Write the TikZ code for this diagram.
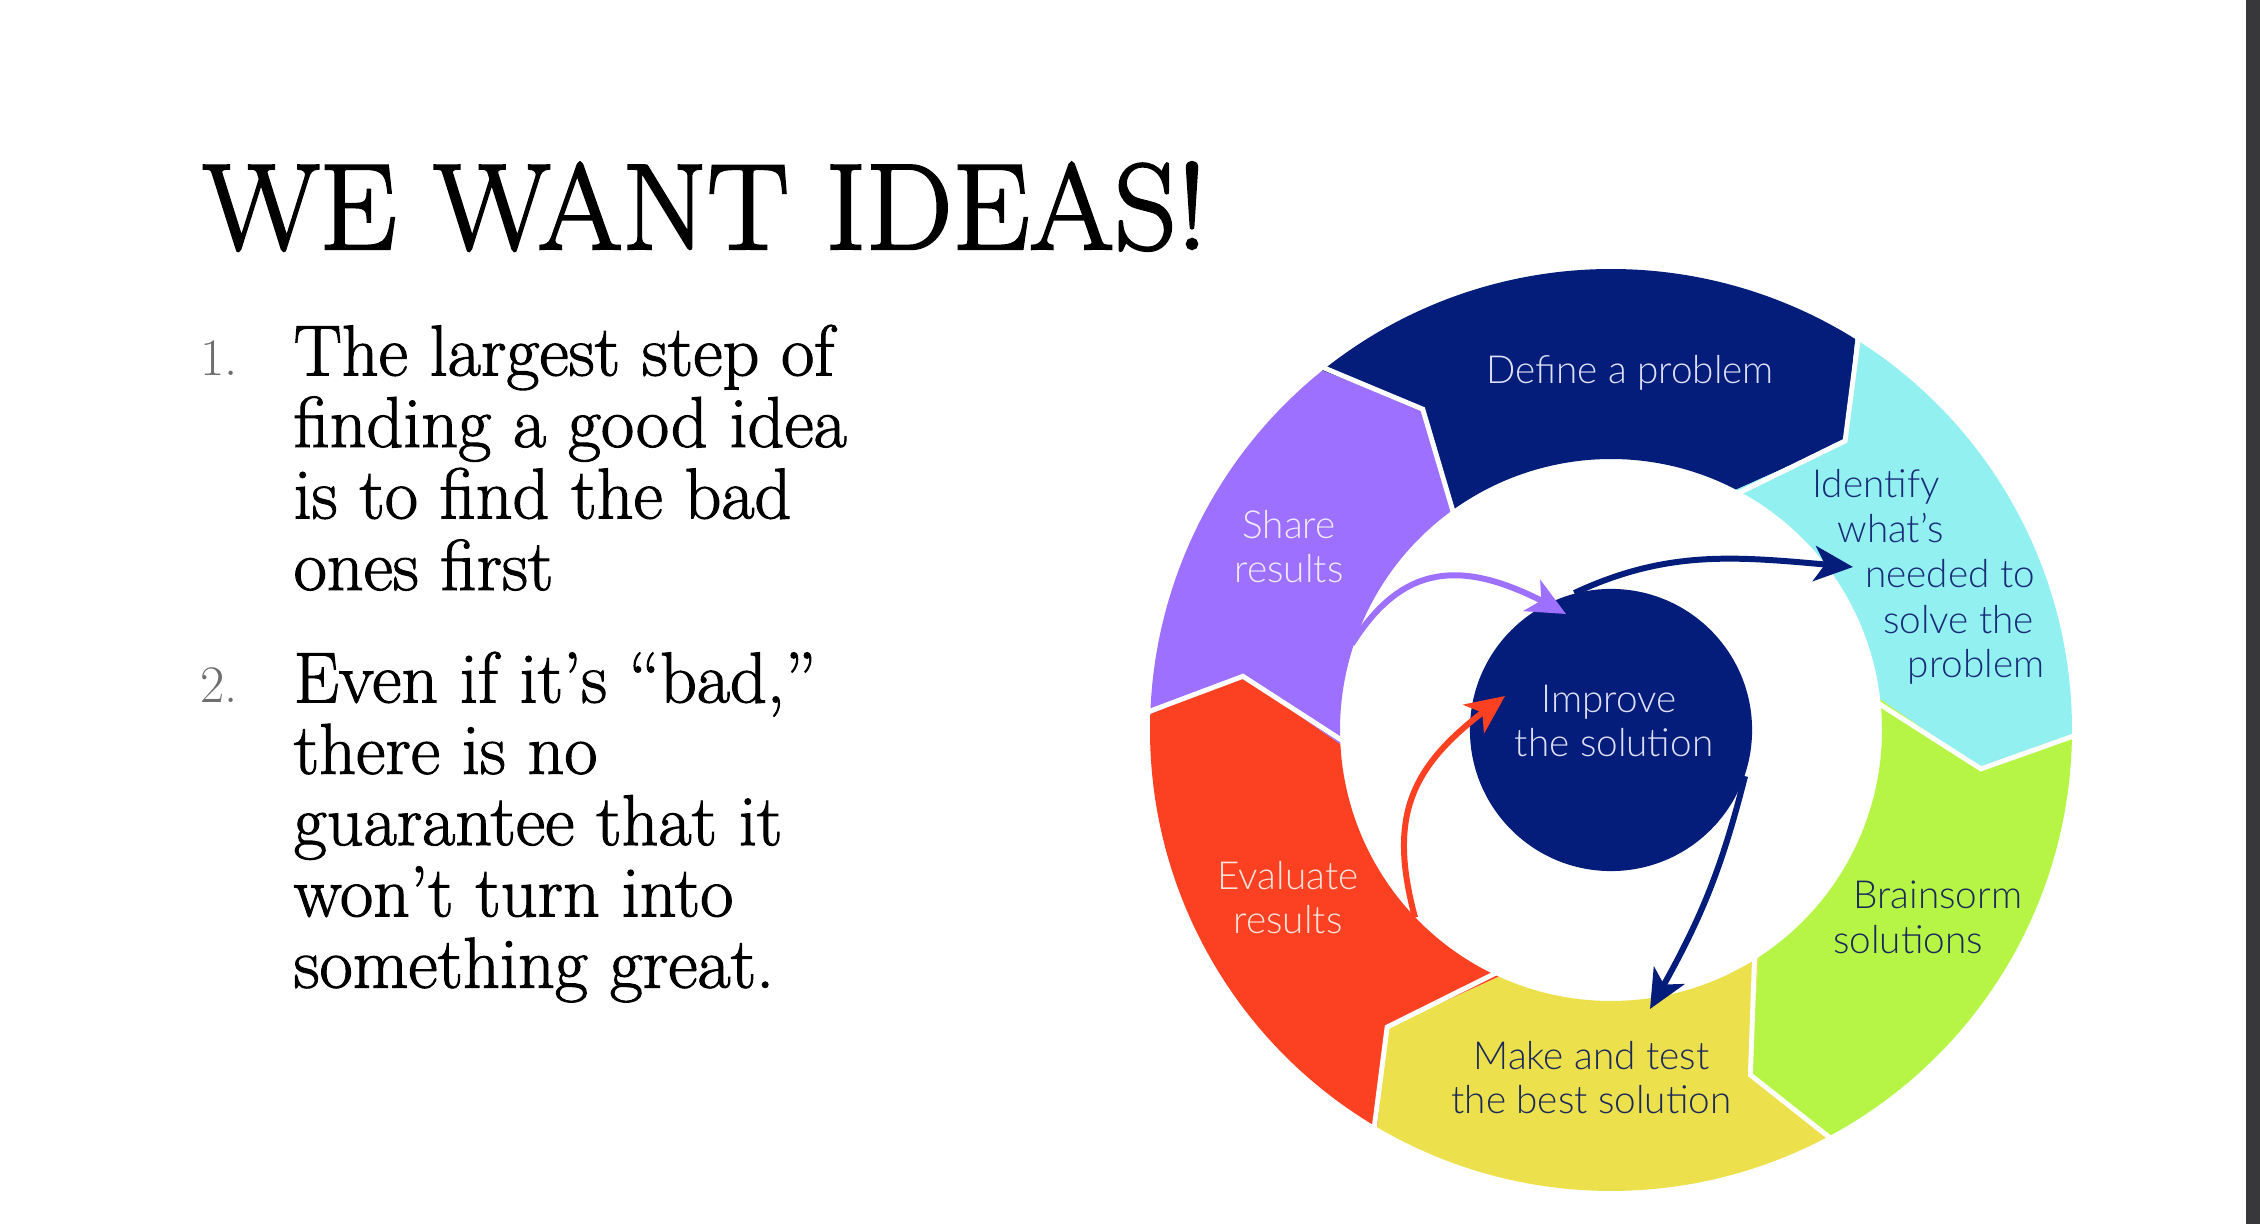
\documentclass[tikz,border=0pt]{standalone}
\usepackage{fontspec}
\newfontfamily\ringfont{Lato Light}
\newfontfamily\headserif{Latin Modern Roman}[FakeBold=2.0]
\newfontfamily\bodyserif{Latin Modern Roman}[FakeBold=1.4]
\usetikzlibrary{arrows.meta,bending}

\definecolor{navyseg}{RGB}{4,28,122}
\definecolor{cyanseg}{RGB}{146,240,240}
\definecolor{limeseg}{RGB}{182,245,70}
\definecolor{yellowseg}{RGB}{236,225,76}
\definecolor{redseg}{RGB}{252,64,34}
\definecolor{purpleseg}{RGB}{157,112,255}
\definecolor{numgray}{RGB}{110,110,110}
\definecolor{bargray}{RGB}{56,56,58}
\definecolor{lighttext}{RGB}{222,224,248}
\definecolor{palepurple}{RGB}{240,234,255}
\definecolor{palered}{RGB}{255,226,218}
\definecolor{darktext}{RGB}{24,44,120}
\definecolor{deeptext}{RGB}{26,40,90}

\begin{document}
\begin{tikzpicture}[x=0.01cm,y=0.01cm,
  segsep/.style={draw=white, line width=1.4pt, line join=miter},
  ringlabel/.style={inner sep=0pt, anchor=base, font=\ringfont\fontsize{11}{13}\selectfont},
  bodyline/.style={inner sep=0pt, anchor=base west, font=\bodyserif\fontsize{20.5}{22}\selectfont},
  numlabel/.style={inner sep=0pt, anchor=base west, text=numgray, font=\fontsize{15}{18}\selectfont},
  flow/.style={line width=1.7pt, -{Stealth[length=11pt,width=10pt,inset=3pt]}},
]
% page background and right-hand bar
\fill[white] (0,0) rectangle (2260,1224);
\useasboundingbox (0,0) rectangle (2260,1224);
\fill[bargray] (2246,0) rectangle (2260,1224);

% heading
\node[inner sep=0pt, anchor=base west, font=\headserif\fontsize{34.8}{40}\selectfont] (title) at (202,975) {WE WANT IDEAS!};

% numbered points
\node[numlabel] (n1) at (200,848.5) {1.};
\node[bodyline] (a1) at (293,848.5) {The largest step of};
\node[bodyline] (a2) at (293,777) {finding a good idea};
\node[bodyline] (a3) at (293,705.5) {is to find the bad};
\node[bodyline] (a4) at (293,634) {ones first};

\node[numlabel] (n2) at (200,521.5) {2.};
\node[bodyline] (b1) at (293,521.5) {Even if it’s “bad,”};
\node[bodyline] (b2) at (293,450.2) {there is no};
\node[bodyline] (b3) at (293,378.9) {guarantee that it};
\node[bodyline] (b4) at (293,307.6) {won’t turn into};
\node[bodyline] (b5) at (293,236.3) {something great.};

% the cycle ring: six arrow-shaped segments
\begin{scope}[shift={(1611,494)}]
  % Define a problem
  \fill[navyseg] (128.8:461) arc[start angle=128.8, end angle=58, radius=461]
    -- (51:372) -- (62.5:271) arc[start angle=62.5, end angle=126.3, radius=271]
    -- (120.4:372) -- cycle;
  % Identify what's needed
  \fill[cyanseg] (58:461) arc[start angle=58, end angle=-0.5, radius=461]
    -- (-6:372) -- (6.5:271) arc[start angle=6.5, end angle=62.5, radius=271]
    -- (51:372) -- cycle;
  % Brainstorm solutions
  \fill[limeseg] (-0.5:461) arc[start angle=-0.5, end angle=-61.5, radius=461]
    -- (-68:372) -- (-57:271) arc[start angle=-57, end angle=6.5, radius=271]
    -- (-6:372) -- cycle;
  % Make and test
  \fill[yellowseg] (-61.5:461) arc[start angle=-61.5, end angle=-120.5, radius=461]
    -- (-127:372) -- (-114.5:271) arc[start angle=-114.5, end angle=-57, radius=271]
    -- (-68:372) -- cycle;
  % Evaluate results
  \fill[redseg] (-120.5:461) arc[start angle=-120.5, end angle=-182, radius=461]
    -- (-188.3:372) -- (-177:271) arc[start angle=-177, end angle=-114.5, radius=271]
    -- (-127:372) -- cycle;
  % Share results
  \fill[purpleseg] (178:461) arc[start angle=178, end angle=128.8, radius=461]
    -- (120.4:372) -- (126.3:271) arc[start angle=126.3, end angle=183, radius=271]
    -- (171.7:372) -- cycle;

  % white gaps between the segments
  \draw[segsep] (58:468) -- (51:372) -- (62.5:264);
  \draw[segsep] (-0.5:468) -- (-6:372) -- (6.5:264);
  \draw[segsep] (-61.5:468) -- (-68:372) -- (-57:264);
  \draw[segsep] (-120.5:468) -- (-127:372) -- (-114.5:264);
  \draw[segsep] (178:468) -- (171.7:372) -- (183:264);
  \draw[segsep] (128.8:468) -- (120.4:372) -- (126.3:264);

  % hub
  \node[circle, fill=navyseg, inner sep=0pt, minimum size=2.82cm] (core) at (0,0) {};
\end{scope}

% free ends of the connectors
\coordinate (pstart) at (1352,580);
\coordinate (ptip) at (1566,610);
\coordinate (ntip) at (1853,657);
\coordinate (rstart) at (1415,306.5);
\coordinate (rtip) at (1505,528);
\coordinate (btip) at (1650,215);

\draw[flow, draw=purpleseg] (pstart) to[out=58, in=150, looseness=1.25] (ptip);
\draw[flow, draw=navyseg] (core.105) to[out=25, in=175] (ntip);
\draw[flow, draw=redseg] (rstart) to[out=105, in=215, looseness=1.2] (rtip);
\draw[flow, draw=navyseg] (core.-19) to[bend left=8] (btip);

% segment labels
\node[ringlabel, text=lighttext] (tdefine) at (1630,840) {Define a problem};

\node[ringlabel, text=darktext] (tid1) at (1876,726.5) {Identify};
\node[ringlabel, text=darktext] (tid2) at (1890.5,681) {what’s};
\node[ringlabel, text=darktext] (tid3) at (1950,636.5) {needed to};
\node[ringlabel, text=darktext] (tid4) at (1958.5,590.5) {solve the};
\node[ringlabel, text=darktext] (tid5) at (1976,546) {problem};

\node[ringlabel, text=deeptext] (tbr1) at (1938,315) {Brainsorm};
\node[ringlabel, text=deeptext] (tbr2) at (1908,270) {solutions};

\node[ringlabel, text=deeptext] (tmk1) at (1591.5,154) {Make and test};
\node[ringlabel, text=deeptext] (tmk2) at (1591.5,110) {the best solution};

\node[ringlabel, text=palered] (tev1) at (1288,334.6) {Evaluate};
\node[ringlabel, text=palered] (tev2) at (1288,290.5) {results};

\node[ringlabel, text=palepurple] (tsh1) at (1289,685) {Share};
\node[ringlabel, text=palepurple] (tsh2) at (1289,641) {results};

\node[ringlabel, text=lighttext] (tim1) at (1609,511) {Improve};
\node[ringlabel, text=lighttext] (tim2) at (1614,467) {the solution};
\end{tikzpicture}
\end{document}
